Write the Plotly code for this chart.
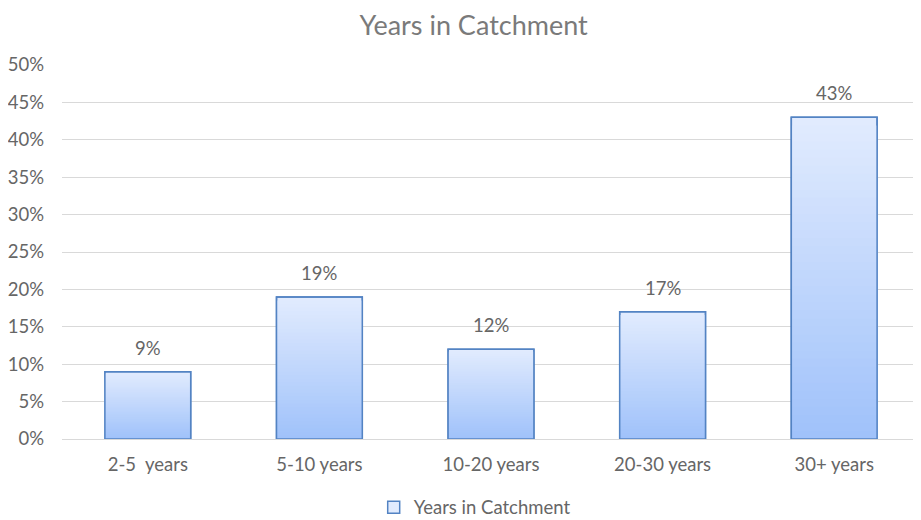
import plotly.graph_objects as go

categories = ["2-5  years", "5-10 years", "10-20 years", "20-30 years", "30+ years"]
values = [0.09, 0.19, 0.12, 0.17, 0.43]
series_name = "Years in Catchment"
y_ticks = [0, 0.05, 0.10, 0.15, 0.20, 0.25, 0.30, 0.35, 0.40, 0.45, 0.50]

TOP = (225, 235, 254)
BOT = (160, 194, 250)
LINE = "#5383c3"
TXT = "#666666"
TITLE = "#7a7a7a"
FONT = "Lato, 'Open Sans', sans-serif"
N = 40

def mix(t):
    return "rgb(%d,%d,%d)" % tuple(round(a + (b - a) * t) for a, b in zip(TOP, BOT))

fig = go.Figure()
for k in range(N):
    frac = 1 - k / N
    fig.add_trace(go.Bar(
        x=categories, y=[v * frac for v in values],
        marker=dict(color=mix(k / (N - 1)),
                    line=dict(color=LINE if k == 0 else mix(k / (N - 1)), width=1.5 if k == 0 else 0)),
        name=series_name, showlegend=(k == 0), hoverinfo="skip" if k else None,
    ))
fig.add_trace(go.Bar(
    x=categories, y=values, name=series_name, showlegend=False,
    marker=dict(color="rgba(0,0,0,0)", line=dict(color=LINE, width=1.5)),
))
for c, v in zip(categories, values):
    fig.add_annotation(x=c, y=v, text=f"{v*100:.0f}%", showarrow=False,
                       yanchor="bottom", yshift=11,
                       font=dict(family=FONT, size=18.5, color=TXT))

fig.update_layout(
    width=913, height=512,
    barmode="overlay", bargap=0.5,
    paper_bgcolor="white", plot_bgcolor="white",
    margin=dict(l=54, r=1, t=57, b=81),
    title=dict(text=series_name, x=0.51, xanchor="center", y=0.966, yanchor="middle",
               font=dict(family=FONT, size=27, color=TITLE)),
    font=dict(family=FONT, size=18.5, color=TXT),
    showlegend=True,
    legend=dict(orientation="h", x=0.481, xanchor="center", yref="container",
                y=0.024, yanchor="middle",
                font=dict(family=FONT, size=18.5, color=TXT)),
    xaxis=dict(showline=False, ticks="", ticklabelstandoff=12, tickfont=dict(size=18.5, color=TXT)),
    yaxis=dict(range=[0, 0.5], tickvals=y_ticks, tickformat=".0%",
               showgrid=True, gridcolor="#d9d9d9", gridwidth=1,
               zeroline=True, zerolinecolor="#d9d9d9", zerolinewidth=1,
               ticks="", ticklabelstandoff=17, tickfont=dict(size=18.5, color=TXT)),
)

fig.write_html("out.html")
